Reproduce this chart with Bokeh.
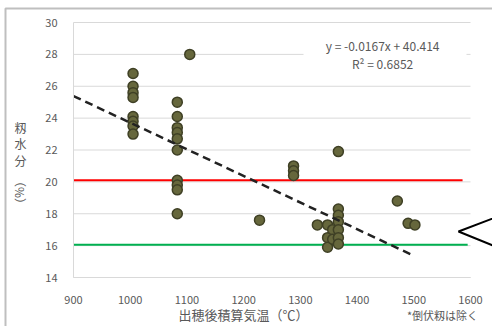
from bokeh.plotting import figure
from bokeh.models import Label, Range1d, FixedTicker, PolyAnnotation, BoxAnnotation
from bokeh.embed import file_html
from bokeh.resources import INLINE

# data
x_vals = [1005]*8 + [1083]*10 + [1105, 1228] + [1288]*3 + [1367] + \
         [1330, 1348, 1348, 1348, 1357, 1357, 1367, 1367, 1367, 1367, 1367, 1367] + [1471, 1490, 1502]
y_vals = [26.8, 26.0, 25.6, 25.3, 24.1, 23.8, 23.5, 23.0] + \
         [25.0, 24.1, 23.4, 23.1, 22.7, 22.0, 20.1, 19.8, 19.5, 18.0] + \
         [28.0, 17.6] + [21.0, 20.7, 20.4] + [21.9] + \
         [17.3, 17.3, 16.5, 15.9, 17.0, 16.4, 18.3, 17.9, 17.5, 17.0, 16.5, 16.1] + [18.8, 17.4, 17.3]
x_ticks = [900, 1000, 1100, 1200, 1300, 1400, 1500, 1600]
y_ticks = [14, 16, 18, 20, 22, 24, 26, 28, 30]
slope, intercept = -0.0167, 40.414
trend_x = [900, 1500]
red_x, red_y = [900, 1586], 20.1
green_x, green_y = [900, 1595], 16.05

JP = "Noto Sans CJK JP"
GRAY = "#595959"
W, H = 492, 326
# plot area in pixels: x 900->73, 1600->470 ; y 30->22, 14->277
kx = (470 - 73) / 700.0
ky = (277 - 22) / 16.0
x0 = 900 - 73 / kx
x1 = 1600 + (W - 470) / kx
y1 = 30 + 22 / ky
y0 = 14 - (H - 277) / ky

p = figure(width=W, height=H, output_backend="svg", toolbar_location=None,
           x_range=Range1d(x0, x1), y_range=Range1d(y0, y1), min_border=0)
p.outline_line_color = None
p.background_fill_color = "white"

p.xaxis.fixed_location = 14
p.yaxis.fixed_location = 900
p.xaxis.bounds = (900, 1600)
p.yaxis.bounds = (14, 30)
for ax in (p.xaxis[0], p.yaxis[0]):
    ax.major_tick_line_color = None
    ax.minor_tick_line_color = None
    ax.axis_line_color = "#d9d9d9"
    ax.major_label_text_font = JP
    ax.major_label_text_font_size = "11px"
    ax.major_label_text_color = GRAY
p.xaxis.ticker = FixedTicker(ticks=x_ticks)
p.yaxis.ticker = FixedTicker(ticks=y_ticks)
p.xaxis.major_label_standoff = 12
p.yaxis.major_label_standoff = 10
p.xgrid.grid_line_color = None
p.ygrid.grid_line_color = None

# horizontal gridlines limited to the plot area
p.segment(x0=[900]*len(y_ticks), x1=[1600]*len(y_ticks), y0=y_ticks, y1=y_ticks,
          line_color="#d9d9d9", line_width=1)

p.line(red_x, [red_y]*2, line_color="#ff0000", line_width=2)
p.line(green_x, [green_y]*2, line_color="#00b050", line_width=2)

p.scatter(x_vals, y_vals, size=10, fill_color="#66673c", line_color="#3f4025", line_width=1.5)

p.line(trend_x, [slope*x + intercept for x in trend_x], line_color="#222222",
       line_width=2.5, line_dash="8 5")

# outer chart border (top and left)
p.add_layout(PolyAnnotation(xs=[5, 5, 600, 600], ys=[-10, H - 8, H - 8, -10],
                            xs_units="screen", ys_units="screen",
                            fill_color=None, fill_alpha=0, line_color="#bfbfbf",
                            line_alpha=1, line_width=2))

# equation box
p.add_layout(BoxAnnotation(left=303, right=466, top=H - 37, bottom=H - 71,
                           left_units="screen", right_units="screen",
                           top_units="screen", bottom_units="screen",
                           fill_color="white", fill_alpha=1, line_color=None))
p.add_layout(Label(x=1445, y=28.56, text="y = -0.0167x + 40.414", text_align="center",
                   text_baseline="middle", text_font=JP, text_font_size="12px", text_color=GRAY))
p.add_layout(Label(x=1445, y=27.44, text="R² = 0.6852", text_align="center",
                   text_baseline="middle", text_font=JP, text_font_size="12px", text_color=GRAY))

def slabel(x, y, text, size="12px", angle=0):
    p.add_layout(Label(x=x, y=H - y, x_units="screen", y_units="screen", text=text,
                       text_align="center", text_baseline="middle", angle=angle, angle_units="deg",
                       text_font=JP, text_font_size=size, text_color=GRAY))

# y axis title (stacked)
for ch, yy in zip("籾水分", [127, 143, 160]):
    slabel(20, yy, ch)
slabel(20, 192, "（%）", angle=-90)
slabel(243, 314, "出穂後積算気温（℃）", size="13px")
slabel(442, 314, "*倒伏籾は除く", size="11px")

p.add_layout(PolyAnnotation(xs=[500, 458, 500], ys=[H - 215, H - 231, H - 248],
                            xs_units="screen", ys_units="screen",
                            fill_color=None, fill_alpha=0, line_color="black",
                            line_alpha=1, line_width=2))

open("out.html", "w").write(file_html(p, INLINE))
